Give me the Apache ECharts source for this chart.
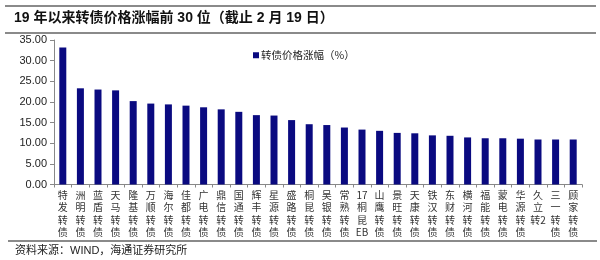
<!DOCTYPE html>
<html><head><meta charset="utf-8">
<script src="https://cdn.jsdelivr.net/npm/echarts@6/dist/echarts.min.js"></script>
<style>html,body{margin:0;padding:0;background:#fff}#c{width:600px;height:260px}</style>
</head><body><div id="c"></div>
<script>
var categories = ["特发转债","洲明转债","蓝盾转债","天马转债","隆基转债","万顺转债","海尔转债","佳都转债","广电转债","鼎信转债","国通转债","辉丰转债","星源转债","盛路转债","桐昆转债","吴银转债","常熟转债","17桐昆EB","山鹰转债","景旺转债","天康转债","铁汉转债","东财转债","横河转债","福能转债","蒙电转债","华源转债","久立转2","三一转债","顾家转债"];
var values = [33.2,23.3,23.0,22.8,20.2,19.6,19.4,19.1,18.7,18.2,17.6,16.8,16.7,15.6,14.6,14.4,13.8,13.3,13.0,12.5,12.4,11.9,11.8,11.4,11.2,11.2,11.1,10.9,10.9,10.9];
var seriesName = "转债价格涨幅（%）";
var titleText = "19 年以来转债价格涨幅前 30 位（截止 2 月 19 日）";
var sourceText = "资料来源：WIND，海通证券研究所";

var chart = echarts.init(document.getElementById('c'), null, {renderer:'canvas'});
chart.setOption({
  animation:false,
  backgroundColor:'#fff',
  graphic:[
    {type:'line',shape:{x1:5,y1:6,x2:596,y2:6},style:{stroke:'#8a8a8a',lineWidth:2}},
    {type:'line',shape:{x1:5,y1:33,x2:596,y2:33},style:{stroke:'#8a8a8a',lineWidth:2}},
    {type:'line',shape:{x1:8,y1:241,x2:597,y2:241},style:{stroke:'#8a8a8a',lineWidth:2}},
    {type:'text',left:14,top:11,style:{text:titleText,font:'bold 14px "Liberation Sans","Noto Sans CJK SC",sans-serif',fill:'#111'}},
    {type:'text',left:15,top:245,style:{text:sourceText,font:'11px "Liberation Sans","Noto Sans CJK SC",sans-serif',fill:'#222'}}
  ],
  legend:{
    data:[seriesName],left:248,top:45,itemWidth:6,itemHeight:6,icon:'rect',itemGap:0,
    textStyle:{fontSize:10.5,color:'#222',fontFamily:'"Noto Sans CJK SC",sans-serif',padding:[0,0,0,-3]}
  },
  grid:{left:54,right:18,top:40,bottom:75.5},
  xAxis:{
    type:'category',data:categories,
    axisLine:{lineStyle:{color:'#888',width:1}},
    axisTick:{show:true,length:3,lineStyle:{color:'#888'}},
    axisLabel:{
      interval:0,margin:4,fontSize:10,lineHeight:12.5,color:'#333',
      fontFamily:'"Noto Sans CJK SC",sans-serif',
      formatter:function(v){return v.match(/[^\x00-\x7f][0-9]?|[0-9A-Za-z]+/g).join('\n');}
    }
  },
  yAxis:{
    type:'value',min:0,max:35,interval:5,
    axisLine:{show:true,lineStyle:{color:'#888'}},
    axisTick:{show:true,length:4,lineStyle:{color:'#888'}},
    splitLine:{show:false},
    axisLabel:{margin:7,fontSize:11,color:'#222',fontFamily:'"Liberation Sans",Arial,sans-serif',
      formatter:function(v){return v.toFixed(2);}}
  },
  series:[{name:seriesName,type:'bar',data:values,barWidth:7,itemStyle:{color:'#0a0a80'}}]
});
</script></body></html>
